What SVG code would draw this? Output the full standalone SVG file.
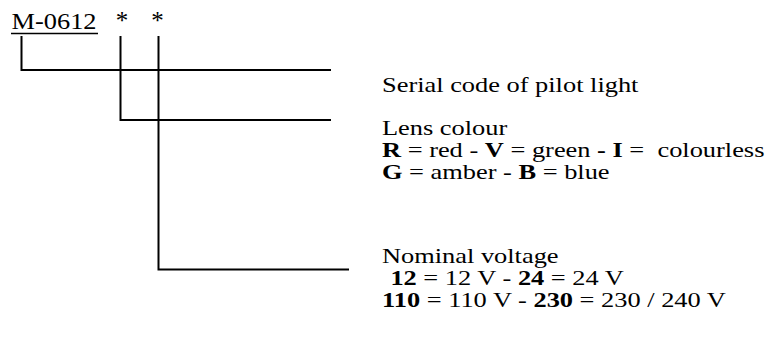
<svg xmlns="http://www.w3.org/2000/svg" width="767" height="340" viewBox="0 0 767 340">
<style>
text{font-family:"Liberation Serif","Times New Roman",serif;font-size:22px;fill:#000}
.b{font-weight:bold}
.ln{stroke:#000;stroke-width:2;fill:none;stroke-linecap:square}
</style>
<rect width="767" height="340" fill="#fff"/>
<g id="code">
<text transform="translate(11.5 0) scale(1.1 1)" x="0" y="29" style="font-size:24px">M-0612</text>
<line x1="11" y1="33.5" x2="98" y2="33.5" stroke="#000" stroke-width="1.5"/>
</g>
<g id="stars">
<text x="122" y="29" text-anchor="middle" style="font-size:25px">*</text>
<text x="157.5" y="29" text-anchor="middle" style="font-size:25px">*</text>
</g>
<g id="connectors">
<path class="ln" d="M21.5 37 V70 H330"/>
<path class="ln" d="M120.5 37 V120 H330"/>
<path class="ln" d="M158.5 37 V269.5 H348"/>
</g>
<g id="serial" transform="translate(382 0) scale(1.2 1)">
<text x="0" y="92.5">Serial code of pilot light</text>
</g>
<g id="lens" transform="translate(382 0) scale(1.2 1)">
<text x="0" y="135.5">Lens colour</text>
<text x="0" y="157.5" xml:space="preserve"><tspan class="b">R</tspan> = red - <tspan class="b">V</tspan> = green <tspan class="b">-</tspan> <tspan class="b">I</tspan> =  colourless</text>
<text x="0" y="179.5"><tspan class="b">G</tspan> = amber - <tspan class="b">B</tspan> = blue</text>
</g>
<g id="voltage" transform="translate(382 0) scale(1.2 1)">
<text x="0" y="263.5">Nominal voltage</text>
<text x="7" y="285.5"><tspan class="b">12</tspan> = 12 V - <tspan class="b">24</tspan> = 24 V</text>
<text x="0" y="307.5"><tspan class="b">110</tspan> = 110 V - <tspan class="b">230</tspan> = 230 / 240 V</text>
</g>
</svg>
